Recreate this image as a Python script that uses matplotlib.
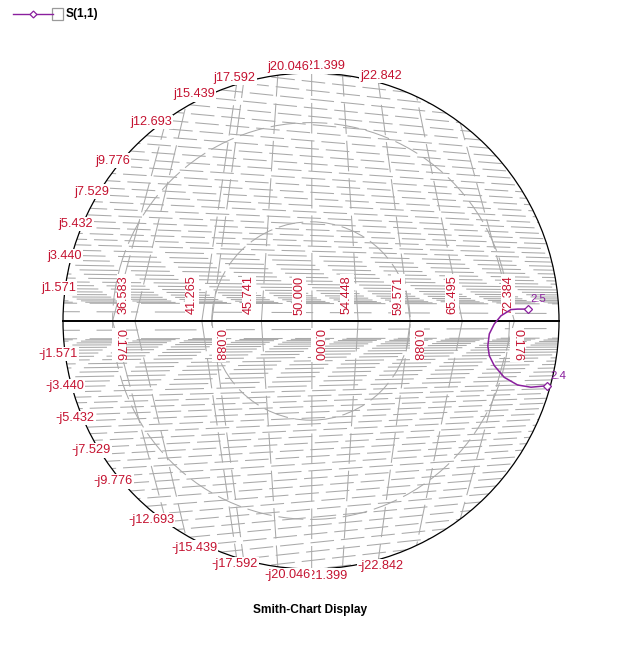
import numpy as np
import matplotlib
matplotlib.use("Agg")
import matplotlib.pyplot as plt
from matplotlib.patches import Circle, Rectangle
from matplotlib.lines import Line2D

plt.rcParams["font.family"] = ["Liberation Sans", "DejaVu Sans"]
plt.rcParams["lines.scale_dashes"] = False

s11_re = [0.874, 0.833, 0.806, 0.766, 0.739, 0.719, 0.713, 0.719, 0.739, 0.779, 0.833, 0.887, 0.952]
s11_im = [0.048, 0.048, 0.046, 0.021, -0.012, -0.052, -0.100, -0.140, -0.180, -0.227, -0.258, -0.267, -0.261]
freq_marks = ["2.5", "2.4"]

# reactance labels round the rim
react_labels = ["1.571", "3.440", "5.432", "7.529", "9.776", "12.693", "15.439",
                "17.592", "21.399", "20.046", "22.842"]
react_angles = [172.5, 165.2, 157.6, 149.5, 141.0, 128.8, 117.3, 107.4, 87.0, 95.2, 74.1]

# labels along the real axis
res_labels = ["36.583", "41.265", "45.741", "50.000", "54.448", "59.571", "65.495", "72.384"]
res_pos = [-0.754, -0.480, -0.250, -0.048, 0.145, 0.351, 0.569, 0.794]
ang_labels = ["0.176", "0.088", "0.000", "0.088", "0.176"]
ang_pos = [-0.774, -0.371, 0.028, 0.427, 0.831]

RED = "#c41230"
PURPLE = "#8a1f9e"
GRAY = "#a9a9a9"

W, H = 617, 669
cx, cy, R = 311, 321, 248

fig = plt.figure(figsize=(W / 100, H / 100), dpi=100)
ax = fig.add_axes([0, 0, 1, 1])
ax.set_xlim(-cx / R, (W - cx) / R)
ax.set_ylim((cy - H) / R, cy / R)
ax.axis("off")

rim_clip = Circle((0, 0), 1.0, transform=ax.transData)

# grid: the near-horizontal dashed arcs, dense close to the axis
t = np.linspace(0, 1, 48)[1:]
h_left = 0.07 + 1.22 * t ** 1.7
xs = np.array([-1.1, 1.1])
for i, hl in enumerate(h_left):
    hr = 0.06 + (hl - 0.06) * 0.78
    ys = hl + (hr - hl) * (xs + 1) / 2
    dense = hl < 0.3
    dash = (28, 9) if dense else (17, 5)
    for s in (1, -1):
        ln, = ax.plot(xs, s * ys, color=GRAY, lw=0.75,
                      ls=((i * 3.1) % 30, dash), zorder=1)
        ln.set_clip_path(rim_clip)

# one sparse row just off the axis on each side
for s in (1, -1):
    ln, = ax.plot(xs, s * np.array([0.038, 0.030]), color=GRAY, lw=0.75,
                  ls=(0, (30, 12)), zorder=1)
    ln.set_clip_path(rim_clip)

# grid: near-vertical dashed lines leaning toward the centre
x_bottom = [-0.80, -0.71, -0.44, -0.40, -0.20, 0.004, 0.19, 0.40, 0.61, 0.82]
for xb in x_bottom:
    for s in (1, -1):
        ln, = ax.plot([xb, xb * 0.6], [0, s * 1.2], color=GRAY, lw=0.75,
                      ls=(0, (22, 5)), zorder=1)
        ln.set_clip_path(rim_clip)

# grid: two dashed concentric circles
for rr in (0.4, 0.8):
    ax.add_patch(Circle((0, 0), rr, fill=False, ec=GRAY, lw=0.75,
                        ls=(0, (18, 5)), zorder=1))

# outer rim and real axis
ax.add_patch(Circle((0, 0), 1.0, fill=False, ec="black", lw=0.9, zorder=3))
ax.plot([-1, 1], [0, 0], color="black", lw=1.4, zorder=3)

# rim labels
for lab, a in zip(react_labels, react_angles):
    x = 1.028 * np.cos(np.radians(a))
    y = 1.028 * np.sin(np.radians(a))
    for s, pre in ((1, "j"), (-1, "-j")):
        ax.text(x, s * y, pre + lab, color=RED, fontsize=9.2, ha="center", va="center",
                zorder=4, bbox=dict(fc="white", ec="none", pad=0.8))

# axis labels
for lab, x in zip(res_labels, res_pos):
    ax.text(x, 0.105, lab, rotation=90, color=RED, fontsize=9.2, ha="center", va="center",
            zorder=4, bbox=dict(fc="white", ec="none", pad=0.8))
for lab, x in zip(ang_labels, ang_pos):
    ax.text(x, -0.097, lab, rotation=270, color=RED, fontsize=9.2, ha="center", va="center",
            zorder=4, bbox=dict(fc="white", ec="none", pad=0.8))

# S(1,1) trace
ax.plot(s11_re, s11_im, color=PURPLE, lw=1.1, zorder=6)
ends = [0, len(s11_re) - 1]
ax.plot([s11_re[k] for k in ends], [s11_im[k] for k in ends], ls="none", marker="D",
        ms=3.8, mfc="white", mec=PURPLE, mew=0.9, zorder=7)
for lab, k in zip(freq_marks, ends):
    ax.annotate(lab, (s11_re[k], s11_im[k]), xytext=(7.8, 7.1), textcoords="offset points",
                color=PURPLE, fontsize=8.2, ha="center", va="center", zorder=7)

# legend (top left)
fig.add_artist(Line2D([13 / W, 53 / W], [1 - 14 / H] * 2, color=PURPLE, lw=1.0,
                      transform=fig.transFigure))
fig.add_artist(Line2D([32.7 / W], [1 - 14 / H], color=PURPLE, marker="D", ms=3.5,
                      mfc="white", mec=PURPLE, mew=0.9, transform=fig.transFigure))
fig.add_artist(Rectangle((52 / W, 1 - 20 / H), 11 / W, 12 / H, fc="white", ec="#9a9a9a",
                         lw=0.9, transform=fig.transFigure))
fig.text(66 / W, 1 - 14 / H, "S(1,1)", fontsize=8.6, fontweight="bold", va="center")

fig.text(310.5 / W, (H - 610) / H, "Smith-Chart Display", fontsize=8.6,
         fontweight="bold", ha="center", va="center")

fig.savefig("out.png", dpi=100)
